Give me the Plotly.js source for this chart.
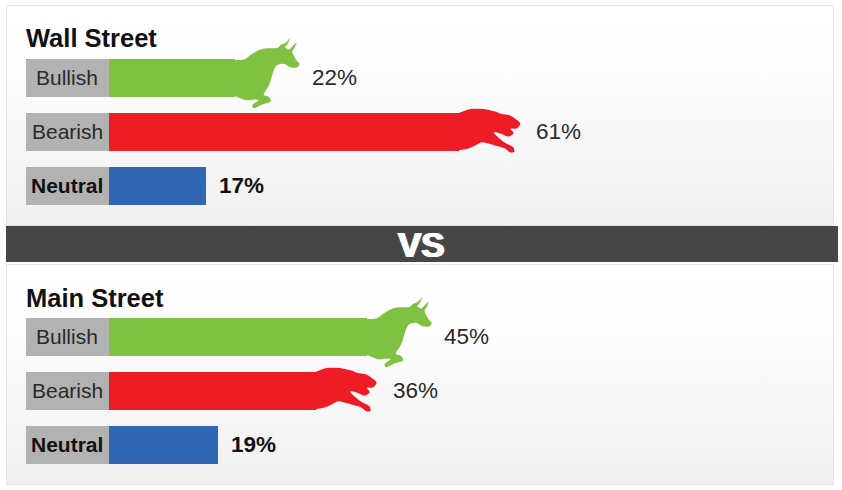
<!DOCTYPE html>
<html>
<head>
<meta charset="utf-8">
<script src="https://cdn.plot.ly/plotly-3.0.0.min.js"></script>
<style>
html,body{margin:0;padding:0;background:#fff;}
.panel{position:absolute;left:6px;width:826px;border:1px solid #e4e4e4;background:linear-gradient(#ffffff 0%,#fdfdfd 30%,#f0f0f0 100%);}
#chart{position:absolute;left:0;top:0;width:842px;height:490px;}
</style>
</head>
<body>
<div class="panel" style="top:5px;height:219px"></div>
<div class="panel" style="top:264px;height:219px"></div>
<div id="chart"></div>
<script>
// Data
const categories = ['Bullish', 'Bearish', 'Neutral'];
const wallStreet = [22, 61, 17];
const mainStreet = [45, 36, 19];
const panelTitles = ['Wall Street', 'Main Street'];
const barColors = ['#7fc241', '#ee1c25', '#2f67b5'];
const labelBoxColor = '#b2b2b2';

// Pixel scale of the value axis (px per percentage point)
const W = 842, H = 490, ZERO_PX = 108.5, PX_PER = 5.75, LABEL_W = 82.5;
const xRange = [-ZERO_PX / PX_PER, (W - ZERO_PX) / PX_PER];
const ROW = 54, HEAD = 0.4; // extra headroom (in rows) above the first bar so the animals are not clipped
const dom = top => [1 - (top + 3 * ROW) / H, 1 - (top - HEAD * ROW) / H];
const labelW = LABEL_W / PX_PER;

// Animal silhouettes, relative px offsets from bar end
const bull = [[-3,-18],[9.3,-18],[17.7,-24.7],[27.7,-29.7],[42.7,-29.7],[45.3,-33],[51,-35.3],[55.5,-41],[52.7,-34],[49.3,-30.7],[54.3,-28],[57.7,-32],[62,-36],[59.3,-29.7],[56.7,-26.3],[61,-18],[65,-14],[62,-10.2],[54.3,-10.7],[49.3,-14.7],[41,-13],[37.7,-4.7],[34.3,7],[27.7,17],[34.3,18.7],[36.5,24],[27.7,26],[18.5,31],[16.7,27],[24.3,22],[19.3,21.3],[11,22.7],[-2.3,17],[-3,18]];
const bear = [[-9,-18],[-0.7,-18.7],[11,-23.5],[24.3,-23],[37.7,-20.3],[41,-18],[51,-17],[62,-8.7],[57.7,-3.2],[50.3,-3.7],[55,1.3],[49.3,5],[41,1.3],[34.3,-0.3],[36,3],[46,11.3],[54.3,14.7],[55.5,20],[51,20.8],[46,16.3],[34.3,13],[22.7,9.7],[11,16.3],[1,18],[-9,18]];
// Rounded-corner path: each vertex becomes a small quadratic curve
const toPath = pts => {
  const t = 0.3, n = pts.length, f = (a, b) => [a[0] + (b[0] - a[0]) * t, -(a[1] + (b[1] - a[1]) * t)].map(v => v.toFixed(2)).join(',');
  let d = '';
  pts.forEach((p, i) => {
    const prev = pts[(i + n - 1) % n], next = pts[(i + 1) % n];
    d += (i ? 'L' : 'M') + f(p, prev) + ' Q' + p[0] + ',' + (-p[1]) + ' ' + f(p, next) + ' ';
  });
  return d + 'Z';
};

function animal(pts, color, value, cat, yref) {
  return {type:'path', layer:'above', path:toPath(pts), xref:'x', yref:yref,
    xsizemode:'pixel', ysizemode:'pixel', xanchor:value, yanchor:cat,
    fillcolor:color, line:{width:0}};
}

const traces = [], shapes = [], annotations = [];
const font = 'Arial, "Liberation Sans", sans-serif';
[[wallStreet,'y',panelTitles[0],38],[mainStreet,'y2',panelTitles[1],298]].forEach(([vals,yref,title,ty]) => {
  traces.push({type:'bar', orientation:'h', x:categories.map(()=>labelW), base:categories.map(()=>-labelW), y:categories,
    yaxis:yref, width:0.69, marker:{color:labelBoxColor, line:{width:0}}, hoverinfo:'skip', showlegend:false});
  traces.push({type:'bar', orientation:'h', x:vals, base:0, y:categories,
    yaxis:yref, width:0.69, marker:{color:barColors, line:{width:0}}, hoverinfo:'skip', showlegend:false});
  annotations.push({xref:'paper', yref:'paper', x:24/W, y:1-ty/H, xanchor:'left', yanchor:'middle', showarrow:false,
    text:'<b>'+title+'</b>', font:{family:font, size:25.5, color:'#111'}});
  categories.forEach((c,i) => {
    const neutral = i === 2;
    annotations.push({xref:'x', yref:yref, x:-labelW/2, y:c, xanchor:'center', yanchor:'middle', showarrow:false, yshift:1,
      text: neutral ? '<b>'+c+'</b>' : c, font:{family:font, size:21, color:neutral?'#111':'#2a2a2a'}});
    const shift = i === 2 ? 11 : 75;
    annotations.push({xref:'x', yref:yref, x:vals[i], y:c, xanchor:'left', yanchor:'middle', showarrow:false, xshift:shift, yshift:1,
      text: neutral ? '<b>'+vals[i]+'%</b>' : vals[i]+'%', font:{family:font, size:22.5, color:neutral?'#111':'#2a2a2a'}});
  });
  shapes.push(animal(bull, barColors[0], vals[0], categories[0], yref));
  shapes.push(animal(bear, barColors[1], vals[1], categories[1], yref));
});

// VS divider band
shapes.push({type:'rect', xref:'paper', yref:'paper', x0:6/W, x1:838/W, y0:1-262/H, y1:1-226/H, fillcolor:'#464646', line:{width:0}, layer:'above'});
annotations.push({xref:'paper', yref:'paper', x:421.5/W, y:1-244/H, xanchor:'center', yanchor:'middle', showarrow:false,
  text:'<b>VS</b>', font:{family:font, size:35, color:'#ffffff', shadow:'1px 0 0 #fff, -1px 0 0 #fff'}});

const yaxis = () => ({type:'category', categoryorder:'array', categoryarray:categories,
  autorange:false, range:[2.5,-0.5-HEAD], visible:false, fixedrange:true});
const layout = {
  width:W, height:H, margin:{l:0,r:0,t:0,b:0}, autosize:false,
  paper_bgcolor:'rgba(0,0,0,0)', plot_bgcolor:'rgba(0,0,0,0)',
  barmode:'overlay', showlegend:false, bargap:0,
  xaxis:{domain:[0,1], range:xRange, visible:false, fixedrange:true, anchor:'y'},
  yaxis:Object.assign(yaxis(), {domain:dom(51)}),
  yaxis2:Object.assign(yaxis(), {domain:dom(310), anchor:'x'}),
  shapes:shapes, annotations:annotations
};
Plotly.newPlot('chart', traces, layout, {displayModeBar:false, staticPlot:true});
</script>
</body>
</html>
